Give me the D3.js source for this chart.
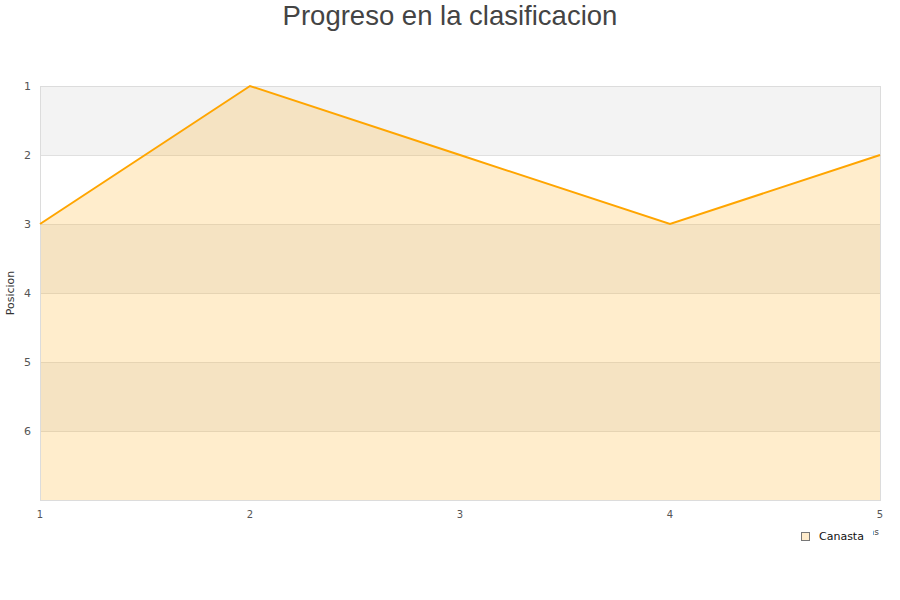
<!DOCTYPE html>
<html><head><meta charset="utf-8">
<script src="https://cdn.jsdelivr.net/npm/d3@7"></script>
<style>body{margin:0;background:#fff;}svg{display:block;font-family:"DejaVu Sans",sans-serif;}</style>
</head><body>
<div id="chart"></div>
<script>
const jornadas = [1, 2, 3, 4, 5];
const posiciones = [3, 1, 2, 3, 2];
const yTicks = [1, 2, 3, 4, 5, 6];
const seriesName = "Canasta";
const title = "Progreso en la clasificacion";
const yTitle = "Posicion";
const xTitle = "Jornadas";

const W = 900, H = 600;
const m = {left: 40, right: 20, top: 86, bottom: 100};
const svg = d3.select("#chart").append("svg").attr("width", W).attr("height", H);

const x = d3.scaleLinear().domain([1, 5]).range([m.left, W - m.right]);
const y = d3.scaleLinear().domain([1, 7]).range([m.top, H - m.bottom]);

// bands
const bands = d3.range(1, 7);
svg.append("g").selectAll("rect").data(bands).join("rect")
  .attr("x", x(1)).attr("width", x(5) - x(1))
  .attr("y", d => y(d)).attr("height", d => y(d + 1) - y(d))
  .attr("fill", d => d % 2 === 1 ? "#f3f3f3" : "#ffffff");

// grid lines
svg.append("g").selectAll("line").data(yTicks.slice(1)).join("line")
  .attr("x1", x(1)).attr("x2", x(5))
  .attr("y1", d => y(d) + 0.5).attr("y2", d => y(d) + 0.5)
  .attr("stroke", "#e0e0e0");

const pts = jornadas.map((j, i) => [j, posiciones[i]]);
// area
svg.append("path").datum(pts)
  .attr("d", d3.area().x(d => x(d[0])).y0(y(7)).y1(d => y(d[1])))
  .attr("fill", "rgba(255,165,0,0.2)");

// border
svg.append("rect").attr("x", x(1) + 0.5).attr("y", y(1) + 0.5)
  .attr("width", x(5) - x(1)).attr("height", y(7) - y(1))
  .attr("fill", "none").attr("stroke", "#dcdcdc");

// line
svg.append("path").datum(pts)
  .attr("d", d3.line().x(d => x(d[0])).y(d => y(d[1])))
  .attr("fill", "none").attr("stroke", "#ffa500").attr("stroke-width", 2);

// y ticks
svg.append("g").selectAll("text").data(yTicks).join("text")
  .attr("x", 31).attr("y", d => y(d) + 4).attr("text-anchor", "end")
  .attr("font-size", 11).attr("fill", "#555").text(d => d);

// x ticks
svg.append("g").selectAll("text").data(jornadas).join("text")
  .attr("x", d => x(d)).attr("y", 518).attr("text-anchor", "middle")
  .attr("font-size", 10).attr("fill", "#555").text(d => d);

// y title
svg.append("text").attr("transform", "translate(14," + ((y(1) + y(7)) / 2) + ") rotate(-90)")
  .attr("text-anchor", "middle").attr("font-size", 11).attr("fill", "#333").text(yTitle);

// x title (mostly covered by legend, as in the original)
svg.append("text").attr("x", 879).attr("y", 535).attr("text-anchor", "end")
  .attr("font-size", 9).attr("fill", "#444").text(xTitle);

// legend
const lg = svg.append("g");
lg.append("rect").attr("x", 790).attr("y", 526).attr("width", 83).attr("height", 20).attr("fill", "#fff");
lg.append("rect").attr("x", 801.5).attr("y", 532.5).attr("width", 8).attr("height", 8)
  .attr("fill", "#ffeccc").attr("stroke", "#777");
lg.append("text").attr("x", 819).attr("y", 540).attr("font-size", 11).attr("fill", "#111").text(seriesName);

// title
svg.append("text").attr("x", 450).attr("y", 25).attr("text-anchor", "middle")
  .attr("font-family", "Liberation Sans, Arial, sans-serif")
  .attr("font-size", 27.5).attr("fill", "#444").text(title);
</script>
</body></html>
